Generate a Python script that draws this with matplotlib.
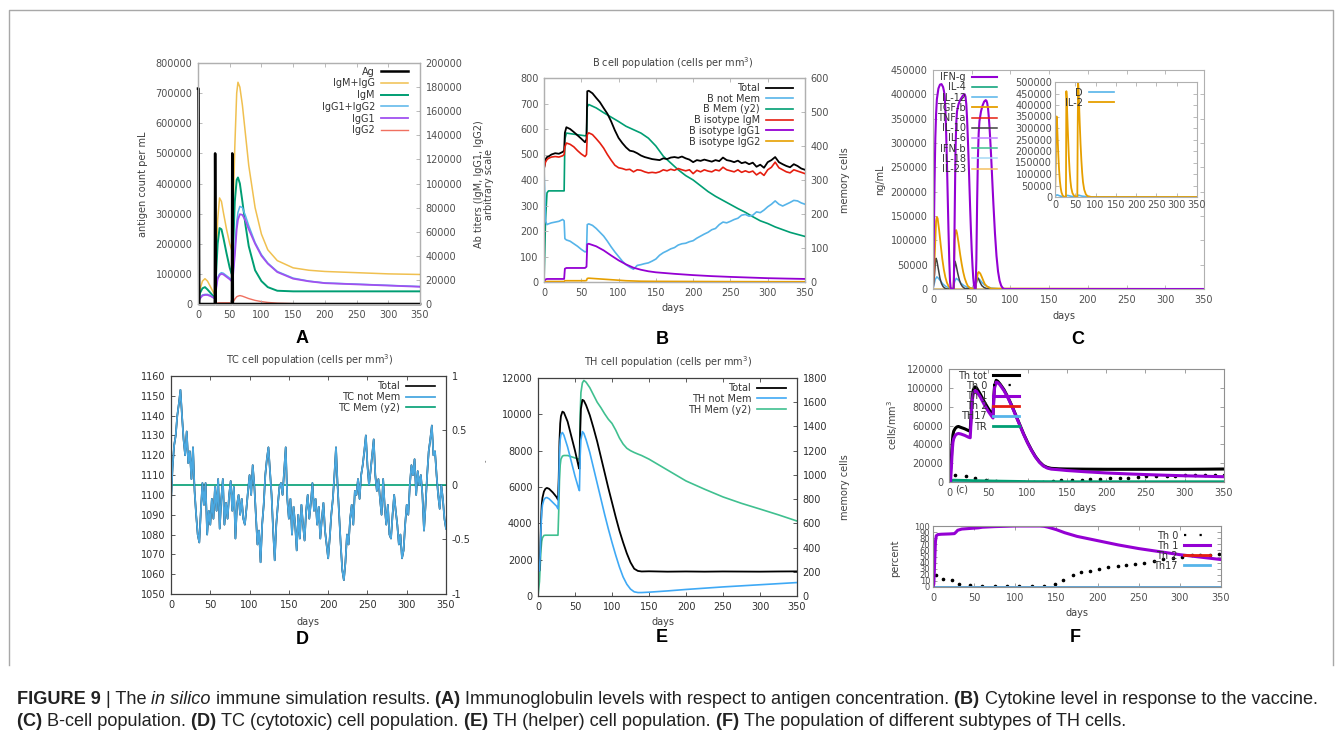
import numpy as np
import matplotlib
matplotlib.use('Agg')
import matplotlib.pyplot as plt
from matplotlib.lines import Line2D

plt.rcParams['axes.unicode_minus'] = False

# ---------------- A : antigen and antibody titres ----------------
ag_days = [0, 0.8, 2, 26.5, 27, 28, 53.5, 54, 55, 350]
ag_count = [715000, 715000, 0, 0, 500000, 0, 0, 500000, 0, 0]

# antibody titres, in thousands (right axis)
ab_days = [0, 3, 7, 11, 15, 20, 25, 27, 29, 31,
           34, 37, 40, 45, 50, 53, 55, 58, 61, 63,
           66, 70, 75, 80, 90, 100, 110, 125, 150, 175,
           200, 250, 300, 350]
igm_igg = [0, 12, 19, 21, 19, 14, 9, 8, 40, 70,
           88, 85, 76, 62, 50, 45, 70, 130, 175, 184,
           180, 165, 140, 115, 80, 58, 45, 36, 30, 28,
           27, 26, 25, 24.5]
igm = [0, 9, 13, 14, 12, 9, 6, 6, 30, 50,
       63, 62, 55, 42, 30, 25, 40, 85, 103, 105,
       100, 85, 65, 48, 28, 19, 14, 11, 10.5, 10.5,
       10.5, 10.5, 10.5, 10.5]
igg1_igg2 = [0, 5, 7.5, 8, 8, 7, 5, 5, 15, 22,
             25, 26, 25.5, 23.5, 21.5, 20, 24, 45, 68, 76,
             81, 80, 73, 65, 51, 41, 34, 27, 21.5, 19,
             17.5, 16.5, 15.5, 14.5]
igg1 = [0, 4.5, 7, 7.5, 7.5, 6.5, 5, 5, 14, 21,
        24, 25, 24.5, 22.5, 20.5, 19, 22, 40, 62, 70,
        74.5, 74, 69, 62, 50, 40, 33.5, 26.5, 21, 18.8,
        17.3, 16.3, 15.3, 14.3]
igg2 = [0, 0, 0, 0, 0, 0, 0, 0, 0.5, 0.8,
        1, 1, 1, 1, 1, 1, 1.5, 4, 6, 6.5,
        7, 6.5, 5.5, 4.5, 3, 2, 1.3, 0.7, 0.3, 0.1,
        0, 0, 0, 0]

# ---------------- B : B cell population ----------------
b_days = [0, 2, 4, 6, 10, 15, 20, 25, 27, 28, 30, 35, 40, 45, 50, 55, 57, 58] + list(range(60, 351, 5))
b_total = [445, 480, 490, 492, 500, 505, 503, 510, 515, 585, 607, 600, 588, 575, 562, 548, 560, 748,
           750, 740, 722, 705, 682, 660, 630, 595, 565, 545,
           528, 515, 512, 505, 496, 490, 486, 482, 480, 478,
           485, 482, 488, 490, 487, 492, 485, 480, 470, 478,
           475, 480, 476, 472, 478, 474, 488, 478, 475, 470,
           476, 466, 470, 462, 468, 452, 460, 448, 470, 478,
           490, 470, 462, 455, 450, 462, 455, 445, 440]
b_igm = [445, 470, 480, 485, 490, 492, 490, 495, 500, 530, 545, 540, 530, 515, 502, 492, 500, 578,
         585, 578, 562, 545, 525, 500, 478, 458, 448, 445,
         440, 442, 432, 440, 438, 432, 428, 430, 428, 432,
         440, 436, 442, 438, 445, 440, 436, 440, 425, 438,
         432, 440, 435, 432, 440, 436, 450, 440, 436, 432,
         440, 430, 436, 430, 435, 420, 430, 418, 440, 450,
         470, 448, 440, 432, 428, 440, 435, 430, 425]
b_not_mem = [445, 240, 225, 228, 232, 235, 238, 245, 240, 170, 165, 160, 150, 140, 128, 118, 120, 225,
             228, 222, 210, 195, 180, 160, 138, 118, 100, 82,
             68, 58, 50, 65, 68, 72, 75, 82, 90, 105,
             115, 122, 130, 135, 145, 150, 152, 158, 162, 172,
             180, 188, 195, 205, 210, 225, 235, 232, 238, 245,
             250, 262, 265, 258, 262, 275, 272, 282, 295, 305,
             318, 305, 298, 305, 312, 320, 318, 310, 305]
bmem_days = [0, 2, 4, 6, 27, 28, 30, 55, 57, 58,
             60, 70, 80, 90, 100, 110, 120, 130, 140, 150,
             160, 170, 180, 190, 200, 210, 220, 230, 240, 250,
             260, 270, 280, 290, 300, 310, 320, 330, 340, 350]
b_mem = [0, 180, 262, 268, 268, 420, 438, 430, 432, 515,
         522, 512, 498, 485, 472, 458, 448, 438, 423, 400,
         370, 350, 330, 313, 300, 283, 266, 252, 240, 228,
         216, 205, 192, 180, 172, 162, 154, 146, 140, 134]
bg1_days = [0, 2, 4, 27, 28, 30, 55, 57, 58, 60,
            70, 80, 90, 100, 110, 120, 130, 140, 150, 175,
            200, 225, 250, 275, 300, 325, 350]
b_igg1 = [0, 10, 12, 12, 52, 55, 55, 60, 148, 150,
          140, 124, 104, 85, 69, 56, 48, 42, 38, 32,
          27, 23, 20, 17.5, 15, 13.4, 12]
bg2_days = [0, 2, 4, 27, 28, 30, 55, 57, 58, 60, 70, 80, 90, 100, 110, 120, 130, 150, 200, 250, 300, 350]
b_igg2 = [0, 1, 2, 2, 5, 5, 5, 6, 14, 15, 13, 11, 9, 7, 5, 4, 3, 2.5, 2, 1.5, 1.2, 1]

# ---------------- C : cytokines (thousands ng/mL) ----------------
ifng_days = [0, 1, 2, 3, 4, 5, 7, 9, 11, 13,
             14, 15, 16, 17, 18, 19, 20, 21, 22, 23,
             26.5, 27, 28, 29, 30, 31, 33, 35, 38, 40,
             41, 42, 43, 44, 45, 46, 47, 48, 49, 50,
             51, 52, 53, 54, 55, 56, 57, 58, 59, 60,
             62, 64, 66, 68, 69, 70, 71, 72, 73, 74,
             75, 76, 77, 78, 80, 82, 84, 86, 88, 90,
             92, 350]
ifng = [0, 100, 220, 310, 360, 390, 412, 420, 421, 415,
        408, 398, 370, 320, 260, 190, 120, 60, 15, 0,
        0, 20, 150, 280, 340, 365, 380, 388, 396, 400,
        400, 395, 380, 350, 310, 265, 215, 165, 120, 80,
        48, 22, 7, 0, 0, 60, 180, 270, 320, 345,
        365, 377, 385, 388, 387, 382, 372, 355, 332, 305,
        275, 242, 208, 175, 115, 68, 36, 17, 7, 2,
        0, 0]
tgfb_days = [0, 2, 4, 5, 6, 8, 10, 12, 14, 16,
             18, 20, 22, 26.5, 27, 28, 29, 30, 31, 33,
             35, 37, 39, 41, 43, 45, 48, 55, 56, 58,
             59, 61, 63, 65, 67, 70, 75, 350]
tgfb = [0, 60, 140, 148, 145, 120, 90, 62, 40, 24,
        13, 6, 2, 0, 30, 100, 120, 121, 115, 95,
        72, 52, 35, 22, 13, 6, 2, 0, 15, 33,
        35, 32, 25, 17, 10, 5, 1, 0]
il10_days = [0, 2, 3, 4, 5, 7, 9, 11, 13, 15,
             18, 27, 27.5, 28.5, 30, 32, 34, 36, 38, 41,
             55, 56, 57, 59, 61, 63, 66, 70, 350]
il10 = [0, 30, 55, 63, 58, 40, 22, 11, 5, 2,
        0, 0, 40, 57, 48, 32, 19, 10, 5, 1,
        0, 15, 25, 20, 13, 7, 3, 0.5, 0]
il12_days = [0, 3, 5, 7, 10, 13, 16, 20, 26, 28,
             30, 33, 36, 40, 45, 54, 56, 58, 60, 63,
             66, 70, 75, 85, 350]
il12 = [0, 20, 25, 22, 16, 10, 6, 2.5, 1, 15,
        22, 18, 12, 7, 3, 1, 12, 22, 20, 14,
        9, 5, 2, 0.5, 0]
flat_days = [0, 350]
flat_zero = [0, 0]
# inset
il2_days = [0, 2, 3, 4, 5, 6, 8, 10, 12, 14,
            16, 19, 23, 27, 27.5, 28, 29, 30, 32, 34,
            36, 38, 40, 43, 47, 55, 56, 57, 58, 59,
            61, 63, 65, 67, 69, 72, 76, 80, 90, 350]
il2 = [0, 150, 320, 350, 330, 280, 190, 120, 70, 40,
       20, 6, 1, 0, 250, 460, 430, 370, 270, 180,
       115, 70, 40, 17, 5, 0, 300, 500, 470, 420,
       320, 230, 160, 105, 65, 32, 12, 4, 0, 0]
d_days = [0, 3, 6, 10, 15, 22, 27, 29, 33, 40, 50, 55, 57, 60, 66, 75, 90, 350]
d_vals = [0, 8, 9, 6, 3, 1, 1, 7, 6, 3, 1, 1, 8, 7, 4, 2, 0.5, 0]

# ---------------- D : TC cells (every 2 days) ----------------
tc_days = np.arange(0, 351, 2)
tc_not_mem = [1097, 1114, 1125, 1130, 1140, 1146, 1153, 1140, 1128, 1120,
              1132, 1116, 1122, 1108, 1124, 1102, 1090, 1080, 1076, 1092,
              1106, 1095, 1106, 1080, 1092, 1085, 1098, 1088, 1104, 1092,
              1108, 1083, 1098, 1108, 1085, 1096, 1088, 1100, 1107, 1092,
              1104, 1078, 1095, 1100, 1090, 1098, 1088, 1085, 1093, 1102,
              1110, 1100, 1115, 1105, 1090, 1075, 1082, 1066, 1085, 1095,
              1110, 1118, 1124, 1112, 1100, 1082, 1067, 1085, 1095, 1104,
              1106, 1100, 1112, 1124, 1098, 1088, 1098, 1080, 1094, 1085,
              1072, 1090, 1078, 1095, 1085, 1077, 1092, 1100, 1088, 1096,
              1106, 1092, 1098, 1085, 1094, 1078, 1088, 1096, 1082, 1075,
              1068, 1078, 1090, 1098, 1110, 1124, 1105, 1090, 1075, 1062,
              1057, 1066, 1080, 1075, 1088, 1095, 1085, 1102, 1100, 1108,
              1098, 1110, 1115, 1122, 1130, 1115, 1105, 1112, 1120, 1128,
              1110, 1102, 1108, 1098, 1090, 1108, 1094, 1085, 1095, 1080,
              1078, 1090, 1100, 1092, 1085, 1075, 1080, 1068, 1072, 1085,
              1095, 1090, 1105, 1115, 1110, 1118, 1100, 1112, 1105, 1110,
              1100, 1082, 1095, 1110, 1122, 1128, 1135, 1120, 1122, 1110,
              1100, 1093, 1105, 1098, 1088, 1083]
tc_mem = [0, 0]

# ---------------- E : TH cells ----------------
th_days = [0, 2, 3, 4, 5, 6, 8, 10, 12, 15,
           20, 25, 27, 28, 29, 30, 31, 33, 35, 40,
           45, 50, 55, 56, 57, 58, 60, 62, 65, 70,
           75, 80, 85, 90, 95, 100, 105, 110, 115, 120,
           125, 130, 135, 140, 150, 175, 200, 225, 250, 275,
           300, 325, 350]
th_total = [1350, 1400, 2500, 4000, 5000, 5400, 5750, 5900, 5950, 5900,
            5700, 5450, 5300, 6500, 8500, 9500, 9900, 10150, 10100, 9600,
            8800, 8000, 7100, 7000, 9000, 10300, 10800, 10750, 10500, 9950,
            9250, 8500, 7650, 6800, 5950, 5150, 4350, 3600, 2950, 2350,
            1850, 1500, 1380, 1350, 1360, 1340, 1350, 1340, 1350, 1345,
            1340, 1350, 1355]
th_not_mem = [1350, 1380, 2300, 3700, 4600, 5000, 5300, 5400, 5420, 5350,
              5150, 4950, 4800, 6000, 7800, 8600, 8900, 9000, 8850, 8200,
              7400, 6600, 5900, 5800, 7700, 8600, 9050, 8950, 8600, 7900,
              7050, 6200, 5350, 4500, 3700, 2950, 2250, 1600, 1050, 650,
              380, 230, 190, 190, 210, 280, 360, 430, 500, 560,
              620, 680, 740]
th_mem = [0, 120, 250, 380, 450, 480, 500, 502, 502, 502,
          502, 502, 502, 700, 950, 1080, 1130, 1155, 1160, 1160,
          1150, 1140, 1130, 1120, 1500, 1680, 1760, 1780, 1765, 1720,
          1660, 1600, 1555, 1505, 1460, 1425, 1370, 1305, 1255, 1220,
          1200, 1185, 1172, 1160, 1130, 1040, 950, 882, 818, 765,
          718, 670, 619]

# ---------------- F : TH subtypes ----------------
ft_days = [0, 2, 3, 4, 5, 6, 8, 10, 12, 15,
           20, 25, 27, 28, 29, 30, 31, 33, 35, 40,
           45, 50, 55, 56, 57, 58, 60, 62, 65, 70,
           75, 80, 85, 90, 95, 100, 105, 110, 115, 120,
           125, 130, 140, 150, 175, 200, 225, 250, 275, 300,
           325, 350]
th_tot_k = [14, 14, 25, 40, 50, 54, 57, 58.5, 59, 58,
            56.5, 54.5, 54, 70, 85, 93, 98, 101, 100, 93,
            85, 78, 72, 71, 90, 102, 108, 107, 104, 98,
            90, 81, 71, 61, 51, 42, 34, 27, 21.5, 17.5,
            15.5, 14.5, 14, 13.8, 13.6, 13.5, 13.5, 13.5, 13.5, 13.5,
            13.6, 13.8]
th1_k = [0, 1, 15, 32, 42, 46, 49.5, 51, 51.5, 51,
         49.5, 47.5, 47, 63, 80, 89, 94, 97, 96.5, 90,
         82, 75, 69, 68, 88, 100, 106, 105.5, 103, 97,
         89.5, 80.5, 70.5, 60.5, 50.5, 41.5, 33.5, 26.5, 21, 17,
         14.8, 13.7, 13, 12.2, 10.8, 9.6, 8.7, 7.9, 7.2, 6.6,
         6.1, 5.6]
th0_dot_days = [0, 8, 21, 33, 47, 60, 72, 84, 96, 108,
                120, 132, 143, 156, 169, 180, 192, 205, 217, 228,
                241, 251, 264, 277, 288, 300, 313, 326, 338, 350]
th0_k = [14, 7.8, 6.4, 4.3, 2.5, 0.8, 0.4, 0.3, 0.3, 0.3,
         0.4, 0.8, 1.8, 1.8, 2.5, 3.5, 3.5, 4.3, 4.6, 4.6,
         5, 6, 6, 6.4, 6.7, 7.1, 7.8, 7.8, 7.8, 7.8]
tr_days = [0, 5, 30, 60, 100, 150, 350]
tr_k = [0.5, 2, 1.5, 1, 0.5, 0.3, 0.3]
pct_days = [0, 1, 2, 3, 4, 6, 10, 20, 26, 28,
            30, 35, 45, 55, 60, 75, 100, 130, 135, 140,
            150, 160, 175, 200, 225, 250, 275, 300, 325, 350]
th1_pct = [0, 5, 40, 75, 84, 86, 86.5, 87, 87.5, 90,
           93, 95, 96, 97, 98, 99, 100, 100, 99.5, 98,
           94, 89, 83, 76, 69, 63, 58, 53, 49, 45]
th0_pct_days = [4, 12, 23, 32, 45, 60, 75, 90, 105, 120,
                135, 148, 158, 170, 180, 191, 202, 213, 225, 235,
                246, 257, 268, 280, 292, 302, 315, 325, 337, 347]
th0_pct = [20, 13, 12, 5, 4, 1, 1, 1, 1, 1,
           1, 5, 11, 19, 24, 27, 30, 32, 34, 36,
           38, 40, 43, 46, 47, 50, 52, 53, 52, 54]

cap_line1 = [('FIGURE 9 ', 'b'), ('| The ', 'n'), ('in silico ', 'i'),
             ('immune simulation results. ', 'n'), ('(A) ', 'b'),
             ('Immunoglobulin levels with respect to antigen concentration. ', 'n'),
             ('(B) ', 'b'), ('Cytokine level in response to the vaccine.', 'n')]
cap_line2 = [('(C) ', 'b'), ('B-cell population. ', 'n'), ('(D) ', 'b'),
             ('TC (cytotoxic) cell population. ', 'n'), ('(E) ', 'b'),
             ('TH (helper) cell population. ', 'n'), ('(F) ', 'b'),
             ('The population of different subtypes of TH cells.', 'n')]

PURPLE, GREEN, SKY, ORANGE, RED = '#9400d3', '#009e73', '#56b4e9', '#e69f00', '#e51e10'

W, H = 1342, 742
fig = plt.figure(figsize=(W / 100, H / 100), dpi=100)


def rect(l, t, r, b):
    return [l / W, 1 - b / H, (r - l) / W, (b - t) / H]


def note(x, y, s, rot=0, **kw):
    kw.setdefault('fontsize', 7)
    kw.setdefault('color', '#404040')
    fig.text(x / W, 1 - y / H, s, ha='center', va='center', rotation=rot, **kw)


def frame(ax, spine, txt, right=True):
    for s in ax.spines.values():
        s.set_color(spine)
        s.set_linewidth(0.8)
    ax.tick_params(direction='in', length=3, width=0.6, color=spine,
                   labelcolor=txt, labelsize=7, top=True, right=right, pad=4)
    ax.set_xlim(0, 350)
    ax.set_xticks(range(0, 351, 50))


def y2(ax, spine, txt):
    ax.tick_params(axis='y', direction='in', length=3, width=0.6, color=spine,
                   labelcolor=txt, labelsize=7, pad=4)


def keys(ax, handles, x, y, spacing=0.05, hl=2.8):
    leg = ax.legend(handles=handles, loc='upper right', bbox_to_anchor=(x, y),
                    frameon=False, markerfirst=False, fontsize=7, handlelength=hl,
                    handletextpad=0.6, labelspacing=spacing, borderpad=0,
                    borderaxespad=0)
    for t in leg.get_texts():
        t.set_color('#333333')
    return leg


def k(vals):
    return np.array(vals) * 1000


# frame round the whole figure
fig.add_artist(Line2D([9 / W, 9 / W, 1333 / W, 1333 / W],
                      [1 - 665 / H, 1 - 10 / H, 1 - 10 / H, 1 - 665 / H],
                      color='#a8a8a8', lw=1))

# ---------------- panel A ----------------
LG = '#b0b0b0'
TX = '#505050'
axA = fig.add_axes(rect(198, 63, 420, 304))
axA2 = axA.twinx()
axA.set_zorder(2)
axA.patch.set_visible(False)
hA = axA.plot(ag_days, ag_count, color='black', lw=1.8, label='Ag', clip_on=False)
hA += axA2.plot(ab_days, k(igm_igg), color='#f0c050', lw=1.1, label='IgM+IgG')
hA += axA2.plot(ab_days, k(igm), color=GREEN, lw=1.4, label='IgM')
hA += axA2.plot(ab_days, k(igg1_igg2), color=SKY, lw=1.1, label='IgG1+IgG2')
hA += axA2.plot(ab_days, k(igg1), color='#a050f0', lw=1.3, label='IgG1')
hA += axA2.plot(ab_days, k(igg2), color='#f07060', lw=1.0, label='IgG2')
frame(axA, LG, TX, right=False)
y2(axA2, LG, TX)
axA.set_ylim(0, 800000)
axA.set_yticks(range(0, 800001, 100000))
axA2.set_ylim(0, 200000)
axA2.set_yticks(range(0, 200001, 20000))
keys(axA, hA, 0.946, 0.985, spacing=0.18)
note(143, 184, 'antigen count per mL', rot=90)
note(484, 184, 'Ab titers (IgM, IgG1, IgG2)\narbitrary scale', rot=90, linespacing=1.0)

# ---------------- panel B ----------------
axB = fig.add_axes(rect(544, 78, 805, 282))
axB2 = axB.twinx()
axB.set_zorder(2)
axB.patch.set_visible(False)
hB = axB.plot(b_days, b_total, color='black', lw=1.3, label='Total')
hB += axB.plot(b_days, b_not_mem, color=SKY, lw=1.2, label='B not Mem')
hB += axB2.plot(bmem_days, b_mem, color=GREEN, lw=1.2, label='B Mem (y2)')
hB += axB.plot(b_days, b_igm, color=RED, lw=1.2, label='B isotype IgM')
hB += axB.plot(bg1_days, b_igg1, color=PURPLE, lw=1.3, label='B isotype IgG1')
hB += axB.plot(bg2_days, b_igg2, color=ORANGE, lw=1.2, label='B isotype IgG2')
frame(axB, LG, TX, right=False)
y2(axB2, LG, TX)
axB.set_ylim(0, 800)
axB.set_yticks(range(0, 801, 100))
axB2.set_ylim(0, 600)
axB2.set_yticks(range(0, 601, 100))
keys(axB, hB, 0.954, 0.975, spacing=0.07)
note(673, 63, 'B cell population (cells per mm$^3$)')
note(673, 308, 'days')
note(845, 180, 'memory cells', rot=90)

# ---------------- panel C ----------------
axC = fig.add_axes(rect(933, 70, 1204, 289))
hC = []
for name, col in [('IL-4', GREEN), ('TNF-a', RED), ('IL-6', '#c080ff'),
                  ('IFN-b', '#40c090'), ('IL-18', '#a6d8f5'), ('IL-23', '#f5c060')]:
    hC += axC.plot(flat_days, flat_zero, color=col, lw=1.1, label=name)
hC += axC.plot(il12_days, k(il12), color=SKY, lw=1.1, label='IL-12')
hC += axC.plot(il10_days, k(il10), color='#404040', lw=1.1, label='IL-10')
hC += axC.plot(tgfb_days, k(tgfb), color=ORANGE, lw=1.3, label='TGF-b')
hC += axC.plot(ifng_days, k(ifng), color=PURPLE, lw=1.5, label='IFN-g')
order = ['IFN-g', 'IL-4', 'IL-12', 'TGF-b', 'TNF-a', 'IL-10', 'IL-6', 'IFN-b', 'IL-18', 'IL-23']
hC = sorted(hC, key=lambda h: order.index(h.get_label()))
frame(axC, LG, TX)
axC.set_ylim(0, 450000)
axC.set_yticks(range(0, 450001, 50000))
keys(axC, hC, 0.236, 0.99, spacing=0.02, hl=2.6)
note(880, 180, 'ng/mL', rot=90)
note(1064, 316, 'days')

axI = fig.add_axes(rect(1055, 82, 1197, 197))
hI = axI.plot(d_days, k(d_vals), color=SKY, lw=1.2, label='D')
hI += axI.plot(il2_days, k(il2), color=ORANGE, lw=1.3, label='IL-2')
frame(axI, LG, TX)
axI.set_ylim(0, 500000)
axI.set_yticks(range(0, 500001, 50000))
axI.tick_params(pad=2)
keys(axI, hI, 0.415, 0.95, spacing=-0.02, hl=2.6)

# ---------------- panel D ----------------
DK = '#404040'
TD = '#303030'
axD = fig.add_axes(rect(171, 376, 446, 594))
axD2 = axD.twinx()
axD.set_zorder(2)
axD.patch.set_visible(False)
hD = axD.plot(tc_days, tc_not_mem, color='black', lw=1.2, label='Total')
hD += axD.plot(tc_days, tc_not_mem, color='#4aa8e0', lw=1.3, label='TC not Mem')
hD += axD2.plot(flat_days, tc_mem, color=GREEN, lw=1.2, label='TC Mem (y2)')
frame(axD, DK, TD, right=False)
y2(axD2, DK, TD)
axD.set_ylim(1050, 1160)
axD.set_yticks(range(1050, 1161, 10))
axD2.set_ylim(-1, 1)
axD2.set_yticks([-1, -0.5, 0, 0.5, 1])
axD2.set_yticklabels(['-1', '-0.5', '0', '0.5', '1'])
keys(axD, hD, 0.96, 0.975, spacing=0.06, hl=3.0)
note(310, 360, 'TC cell population (cells per mm$^3$)')
note(308, 622, 'days')

# ---------------- panel E ----------------
axE = fig.add_axes(rect(538, 378, 797, 596))
axE2 = axE.twinx()
axE.set_zorder(2)
axE.patch.set_visible(False)
hE = axE.plot(th_days, th_total, color='black', lw=1.3, label='Total')
hE += axE.plot(th_days, th_not_mem, color='#3fa9f5', lw=1.2, label='TH not Mem')
hE += axE2.plot(th_days, th_mem, color='#40c090', lw=1.2, label='TH Mem (y2)')
frame(axE, DK, TD, right=False)
y2(axE2, DK, TD)
axE.set_ylim(0, 12000)
axE.set_yticks(range(0, 12001, 2000))
axE2.set_ylim(0, 1800)
axE2.set_yticks(range(0, 1801, 200))
keys(axE, hE, 0.958, 0.977, spacing=0.08, hl=3.0)
note(668, 362, 'TH cell population (cells per mm$^3$)')
note(663, 622, 'days')
note(845, 487, 'memory cells', rot=90)
note(486, 461, '-', rot=90, fontsize=5)

# ---------------- panel F ----------------
MG = '#909090'
axF = fig.add_axes(rect(949, 369, 1224, 482))
hF = axF.plot(ft_days, k(th_tot_k), color='black', lw=2.2, label='Th tot')
hF += axF.plot(th0_dot_days, k(th0_k), ls='none', marker='o', ms=1.6, color='black')
hF += axF.plot(flat_days, flat_zero, color=RED, lw=2.0, label='Th 2')
hF += axF.plot(flat_days, flat_zero, color=SKY, lw=2.0, label='TH17')
hF += axF.plot(tr_days, k(tr_k), color=GREEN, lw=2.0, label='TR')
hF += axF.plot(ft_days, k(th1_k), color=PURPLE, lw=2.2, label='Th 1')
dot_key = Line2D([], [], color='black', ls=(0, (1, 6)), lw=1.6, label='Th 0')
hF = [hF[0], dot_key, hF[5], hF[2], hF[3], hF[4]]
frame(axF, MG, TX)
axF.set_ylim(0, 120000)
axF.set_yticks(range(0, 120001, 20000))
keys(axF, hF, 0.255, 0.985, spacing=0.02, hl=2.7)
note(893, 425, 'cells/mm$^3$', rot=90)
note(1085, 508, 'days')
note(962, 490, '(c)')

axG = fig.add_axes(rect(933, 526, 1221, 587))
axG.plot(th0_pct_days, th0_pct, ls='none', marker='o', ms=1.6, color='black')
hG = [Line2D([], [], color='black', ls=(0, (1, 6)), lw=1.6, label='Th 0')]
hG += axG.plot(flat_days, flat_zero, color=RED, lw=2.0, label='Th 2')
hG += axG.plot(flat_days, flat_zero, color=SKY, lw=2.0, label='Th17')
hG += axG.plot(pct_days, th1_pct, color=PURPLE, lw=2.2, label='Th 1')
hG = [hG[0], hG[3], hG[1], hG[2]]
frame(axG, MG, TX)
axG.set_ylim(0, 100)
axG.set_yticks(range(0, 101, 10))
axG.tick_params(axis='y', labelsize=6, pad=2)
keys(axG, hG, 0.962, 0.92, spacing=0.0, hl=2.7)
note(895, 558, 'percent', rot=90)
note(1077, 613, 'days')

# ---------------- panel letters ----------------
for x, y, s in [(302, 338, 'A'), (662, 339, 'B'), (1078, 339, 'C'),
                (302, 640, 'D'), (662, 637, 'E'), (1075, 638, 'F')]:
    note(x, y, s, fontsize=13, fontweight='bold', color='black', family='Liberation Sans')

# ---------------- caption ----------------
renderer = fig.canvas.get_renderer()
CAP_FONT = ['Liberation Sans Narrow', 'Liberation Sans']
KIND = {'b': {'fontweight': 'bold'}, 'i': {'fontstyle': 'italic'}, 'n': {}}


def piece_width(s, kind, size):
    a = fig.text(0, 0, s + '|', fontsize=size, family=CAP_FONT, **KIND[kind])
    b = fig.text(0, 0, '|', fontsize=size, family=CAP_FONT, **KIND[kind])
    w = a.get_window_extent(renderer).width - b.get_window_extent(renderer).width
    a.remove()
    b.remove()
    return w


def caption_line(parts, x0, y, size):
    x = x0
    for s, kind in parts:
        fig.text(x / W, 1 - y / H, s, fontsize=size, family=CAP_FONT, color='#222222',
                 ha='left', va='center', **KIND[kind])
        x += piece_width(s, kind, size)


w0 = sum(piece_width(s, kd, 10) for s, kd in cap_line1)
cap_size = 10 * (1320 - 17) / w0
caption_line(cap_line1, 17, 700, cap_size)
caption_line(cap_line2, 17, 722, cap_size)

fig.savefig('out.png', dpi=100, facecolor='white')
